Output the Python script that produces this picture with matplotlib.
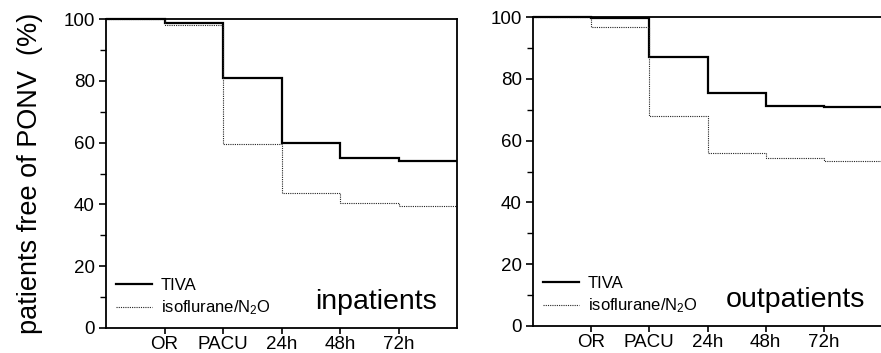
import numpy as np
import matplotlib
matplotlib.use("Agg")
import matplotlib.pyplot as plt
from matplotlib.lines import Line2D

# --- data ---
time_labels = ["OR", "PACU", "24h", "48h", "72h"]
edges = np.arange(7)  # 0..6, intervals between the time points

inpat_tiva = [100, 98.8, 81, 59.9, 55.0, 54.2]
inpat_iso = [100, 97.9, 59.5, 43.6, 40.6, 39.6]
outpat_tiva = [100, 99.8, 87.0, 75.4, 71.3, 70.9]
outpat_iso = [100, 96.8, 67.9, 55.9, 54.3, 53.4]

plt.rcParams["font.family"] = ["Liberation Sans", "DejaVu Sans"]
plt.rcParams["mathtext.fontset"] = "custom"
plt.rcParams["mathtext.rm"] = "Liberation Sans"
plt.rcParams["mathtext.default"] = "rm"

fig = plt.figure(figsize=(8.81, 3.53), dpi=100)
ax1 = fig.add_axes([106 / 881, 25 / 353, 351 / 881, 309 / 353])
ax2 = fig.add_axes([533 / 881, 27 / 353, 349 / 881, 309 / 353])


def draw_panel(ax, tiva, iso, title, title_x, show_right=True):
    ax.stairs(tiva, edges, baseline=None, color="black", linewidth=1.6, clip_on=False)
    ax.stairs(iso, edges, baseline=None, color="#222222", linewidth=0.8,
              linestyle=(0, (1, 1)), clip_on=False)
    ax.set_xlim(0, 6)
    ax.set_ylim(0, 100)
    ax.set_xticks(np.arange(1, 6))
    ax.set_xticklabels(time_labels, fontsize=13.5)
    ax.set_yticks(np.arange(0, 101, 20))
    ax.set_yticks(np.arange(10, 100, 20), minor=True)
    ax.tick_params(axis="y", which="major", direction="out", length=5, width=1.2,
                   labelsize=13.5, pad=3)
    ax.tick_params(axis="y", which="minor", direction="out", length=4, width=1.0)
    ax.tick_params(axis="x", direction="out", length=4, width=1.2, pad=2)
    for s in ax.spines.values():
        s.set_linewidth(1.3)
    if not show_right:
        ax.spines["right"].set_visible(False)

    handles = [Line2D([], [], color="black", linewidth=1.6),
               Line2D([], [], color="#222222", linewidth=0.8, linestyle=(0, (1, 1)))]
    ax.legend(handles, ["TIVA", "isoflurane/N$_2$O"], loc="lower left",
              bbox_to_anchor=(0.028, 0.035), frameon=False, borderpad=0,
              borderaxespad=0, handlelength=2.2, handletextpad=0.5,
              labelspacing=0.32, prop={"size": 12})
    ax.text(title_x, 0.062, title, transform=ax.transAxes, ha="right",
            va="baseline", fontsize=20.5)


draw_panel(ax1, inpat_tiva, inpat_iso, "inpatients", 0.943)
draw_panel(ax2, outpat_tiva, outpat_iso, "outpatients", 0.951, show_right=False)
ax1.set_ylabel("patients free of PONV  (%)", fontsize=19.5, labelpad=15)

fig.savefig("out.png", dpi=100)
